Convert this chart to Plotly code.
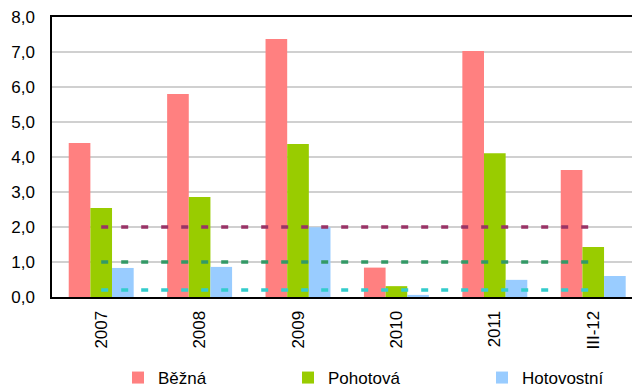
import plotly.graph_objects as go

# Categories and series values
categories = ["2007", "2008", "2009", "2010", "2011", "III-12"]
bezna = [4.40, 5.80, 7.37, 0.84, 7.03, 3.63]
pohotova = [2.54, 2.86, 4.37, 0.31, 4.11, 1.43]
hotovostni = [0.83, 0.86, 1.99, 0.06, 0.49, 0.60]

# Reference levels drawn as dashed lines
level_bezna = [2.0] * len(categories)
level_pohotova = [1.0] * len(categories)
level_hotovostni = [0.2] * len(categories)

y_ticks = [0, 1, 2, 3, 4, 5, 6, 7, 8]

FONT = "Liberation Sans, Arial, sans-serif"
FS = 17
W, H = 632, 390

fig = go.Figure()

bar_series = [
    ("Běžná", bezna, "#FF8080", "legend", 118),
    ("Pohotová", pohotova, "#99CC00", "legend2", 288),
    ("Hotovostní", hotovostni, "#99CCFF", "legend3", 482),
]
for name, vals, color, leg, _ in bar_series:
    fig.add_trace(go.Bar(
        x=categories, y=vals, name=name, marker_color=color,
        marker_line_width=0, legend=leg,
    ))

line_series = [
    (level_bezna, "#993366"),
    (level_pohotova, "#339966"),
    (level_hotovostni, "#33CCCC"),
]
for vals, color in line_series:
    fig.add_trace(go.Scatter(
        x=categories, y=vals, mode="lines", showlegend=False,
        line=dict(color=color, width=3.5, dash="7px,13px"),
        hoverinfo="skip",
    ))

legend_style = dict(
    orientation="h", xref="container", yref="container",
    xanchor="left", yanchor="middle", y=(H - 378) / H,
    font=dict(family=FONT, size=FS, color="#000000"),
    bgcolor="rgba(0,0,0,0)", borderwidth=0,
)

layout_legends = {}
for name, _, _, leg, xpos in bar_series:
    layout_legends[leg] = dict(legend_style, x=xpos / W)

fig.update_layout(
    width=W, height=H,
    margin=dict(l=52, r=0, t=17, b=93),
    paper_bgcolor="white", plot_bgcolor="white",
    font=dict(family=FONT, size=FS, color="#000000"),
    separators=",.",
    barmode="group", bargap=0.34, bargroupgap=0,
    showlegend=True,
    **layout_legends,
)

fig.update_xaxes(
    type="category", range=[-0.5, 5.394],
    tickangle=-90, ticks="", ticklabelstandoff=5,
    showline=True, linecolor="#000000", linewidth=2, mirror=True,
    showgrid=False, zeroline=False,
    tickfont=dict(family=FONT, size=FS, color="#000000"),
)
fig.update_yaxes(
    range=[0, 8], tickvals=y_ticks, tickformat=".1f",
    ticks="", ticklabelstandoff=12,
    showline=True, linecolor="#000000", linewidth=1.5,
    showgrid=True, gridcolor="#D0D0D0", gridwidth=1.5,
    zeroline=False,
    tickfont=dict(family=FONT, size=FS, color="#000000"),
)

fig.write_html("out.html")
